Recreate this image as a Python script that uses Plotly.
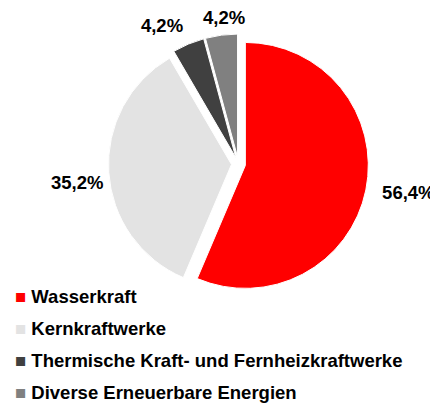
import plotly.graph_objects as go

labels = ["Wasserkraft", "Kernkraftwerke", "Thermische Kraft- und Fernheizkraftwerke", "Diverse Erneuerbare Energien"]
values = [56.4, 35.2, 4.2, 4.2]
colors = ["#ff0000", "#e3e3e3", "#404040", "#808080"]

FONT = "Liberation Sans, Arial, sans-serif"
FS = 18.5
PULL = 0.057
W, H = 438, 404
DX = [0.2294, 0.8230]
DY = [0.2921, 0.9356]
P = "%{percent:.1%}"
tfont = dict(family=FONT, size=FS, color="black", weight="bold")
# pixel nudges (dx right, dy down) of each slice's outside label
label_nudge = [(11, 2), (0, 10), (0, -10), (29, -7)]


def dom(dx=0, dy=0):
    return dict(x=[DX[0] + dx / W, DX[1] + dx / W], y=[DY[0] - dy / H, DY[1] - dy / H])


fig = go.Figure()
fig.add_trace(go.Pie(
    labels=labels, values=values, sort=False, direction="clockwise", rotation=0,
    marker=dict(colors=colors, line=dict(color="white", width=1)),
    pull=PULL, textinfo="none", showlegend=False, hoverinfo="label+percent",
    domain=dom(),
))
# transparent overlays, each carrying one outside label
for i, (ndx, ndy) in enumerate(label_nudge):
    tt = [""] * len(values)
    tt[i] = P
    fig.add_trace(go.Pie(
        labels=labels, values=values, sort=False, direction="clockwise", rotation=0,
        marker=dict(colors=["rgba(0,0,0,0)"] * len(values), line=dict(width=0)),
        pull=PULL, textposition="outside", texttemplate=tt,
        textfont=tfont, showlegend=False, hoverinfo="skip",
        domain=dom(ndx, ndy),
    ))
for i, (lab, col) in enumerate(zip(labels, colors)):
    fig.add_trace(go.Scatter(
        x=[None], y=[None], mode="markers", legendgroup=f"g{i}",
        name=f'<span style="color:{col}">■</span> {lab}',
        marker=dict(symbol="square", size=9, color=col, opacity=0),
    ))

fig.update_layout(
    width=W, height=H, margin=dict(l=0, r=0, t=0, b=0, autoexpand=False),
    paper_bgcolor="white", plot_bgcolor="white", separators=",.",
    xaxis=dict(visible=False), yaxis=dict(visible=False),
    legend=dict(x=-33 / W, xanchor="left", y=(H - 269) / H, yanchor="top",
                font=dict(family=FONT, size=FS, color="black", weight="bold"),
                tracegroupgap=5, itemwidth=30, bgcolor="rgba(0,0,0,0)"),
)
fig.write_html("out.html")
